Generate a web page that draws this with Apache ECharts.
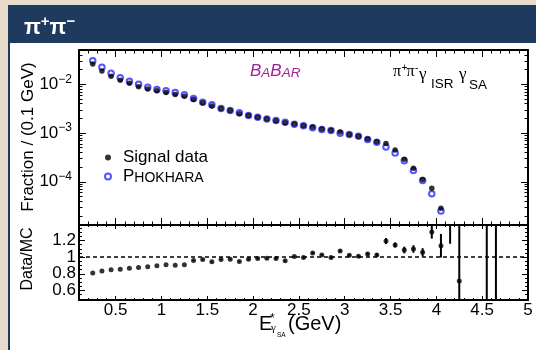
<!DOCTYPE html>
<html>
<head>
<meta charset="utf-8">
<script src="https://cdn.jsdelivr.net/npm/echarts@6/dist/echarts.min.js"></script>
<style>
  html, body { margin: 0; padding: 0; background: #e7dccb; }
  #main { width: 536px; height: 350px; }
</style>
</head>
<body>
<div id="main"></div>
<script>
// Photon energy bin centres, 0.1 GeV bins (GeV)
const energies = [0.25, 0.35, 0.45, 0.55, 0.65, 0.75, 0.85, 0.95, 1.05, 1.15,
  1.25, 1.35, 1.45, 1.55, 1.65, 1.75, 1.85, 1.95, 2.05, 2.15,
  2.25, 2.35, 2.45, 2.55, 2.65, 2.75, 2.85, 2.95, 3.05, 3.15,
  3.25, 3.35, 3.45, 3.55, 3.65, 3.75, 3.85, 3.95, 4.05];

// Fraction of events per 0.1 GeV, measured sample
const signalData = [0.0261, 0.0188, 0.0146, 0.0121, 0.0105, 0.0089, 0.0080, 0.0074, 0.0068, 0.0062,
  0.0057, 0.0049, 0.0042, 0.0036, 0.0032, 0.0029, 0.0025, 0.0023, 0.0021, 0.00194,
  0.00179, 0.00163, 0.00153, 0.00141, 0.00133, 0.00121, 0.00114, 0.00105, 0.00094, 0.00086,
  0.00076, 0.00066, 0.00061, 0.00045, 0.00029, 0.00019, 0.000112, 0.000074, 0.0000288];

// Fraction of events per 0.1 GeV, PHOKHARA generator
const phokhara = [0.0305, 0.0223, 0.0168, 0.0137, 0.0115, 0.0100, 0.0087, 0.0078, 0.0074, 0.0068,
  0.0061, 0.0051, 0.0043, 0.0038, 0.0032, 0.0029, 0.0026, 0.0023, 0.0021, 0.00195,
  0.00180, 0.00167, 0.00152, 0.00141, 0.00128, 0.00118, 0.00113, 0.00099, 0.00094, 0.00086,
  0.00074, 0.00065, 0.00052, 0.00039, 0.00027, 0.000171, 0.000107, 0.0000566, 0.0000253];

// Data/MC ratio with its uncertainty
const ratioEnergies = [0.25, 0.35, 0.45, 0.55, 0.65, 0.75, 0.85, 0.95, 1.05, 1.15,
  1.25, 1.35, 1.45, 1.55, 1.65, 1.75, 1.85, 1.95, 2.05, 2.15,
  2.25, 2.35, 2.45, 2.55, 2.65, 2.75, 2.85, 2.95, 3.05, 3.15,
  3.25, 3.35, 3.45, 3.55, 3.65, 3.75, 3.85, 3.95, 4.05, 4.15,
  4.25, 4.55, 4.65];
const ratioValues = [0.808, 0.832, 0.848, 0.855, 0.867, 0.876, 0.884, 0.896, 0.908, 0.903,
  0.908, 0.959, 0.970, 0.943, 0.970, 0.974, 0.947, 0.974, 0.982, 0.986,
  0.982, 0.955, 1.006, 0.994, 1.050, 1.026, 0.994, 1.073, 1.021, 1.009,
  1.038, 1.026, 1.192, 1.145, 1.085, 1.097, 1.057, 1.302, 1.136, 1.60,
  0.713, 1.90, 1.80];
const ratioErrors = [0.004, 0.004, 0.004, 0.004, 0.004, 0.004, 0.004, 0.004, 0.005, 0.005,
  0.005, 0.006, 0.006, 0.006, 0.007, 0.007, 0.007, 0.008, 0.008, 0.008,
  0.009, 0.009, 0.010, 0.010, 0.011, 0.011, 0.012, 0.013, 0.014, 0.015,
  0.017, 0.019, 0.036, 0.030, 0.040, 0.045, 0.050, 0.080, 0.142, 0.44,
  1.00, 1.60, 1.50];

// Axis ticks
const xMajorTicks = [0.5, 1, 1.5, 2, 2.5, 3, 3.5, 4, 4.5, 5];
const yLogMajorTicks = [1e-4, 1e-3, 1e-2];
const ratioMajorTicks = [0.6, 0.8, 1, 1.2];
// ratio labels are split over two axes so adjacent labels never collide
const ratioLabelsA = [0.6, 1];
const ratioLabelsB = [0.8, 1.2];

const X_MIN = 0.1, X_MAX = 5;
const Y_MIN = 1.3e-5, Y_MAX = 0.0506;
const R_MIN = 0.485, R_MAX = 1.385;

const xMinorTicks = [];
for (let i = 1; i <= 50; i++) xMinorTicks.push(i / 10);
const yLogMinorTicks = [];
for (let d = -5; d <= -2; d++) {
  for (let m = 2; m <= 9; m++) {
    const v = m * Math.pow(10, d);
    if (v > Y_MIN && v < Y_MAX) yLogMinorTicks.push(v);
  }
}
const ratioMinorTicks = [];
for (let i = 10; i <= 27; i++) ratioMinorTicks.push(i * 0.05);

const SANS = '"Liberation Sans", Arial, Helvetica, sans-serif';
const SERIF = '"Liberation Serif", "Times New Roman", serif';

function xAxis(grid, pos, ticks, len, line, label) {
  return {
    type: 'value', gridIndex: grid, position: pos, min: X_MIN, max: X_MAX,
    axisLine: { show: line, onZero: false, lineStyle: { color: '#000', width: 2 } },
    axisTick: { show: true, inside: true, length: len, customValues: ticks, lineStyle: { color: '#000', width: 1 } },
    axisLabel: label || { show: false },
    splitLine: { show: false }
  };
}
function yAxis(grid, pos, type, min, max, ticks, len, line, label) {
  return {
    type: type, gridIndex: grid, position: pos, min: min, max: max,
    axisLine: { show: line, onZero: false, lineStyle: { color: '#000', width: 2 } },
    axisTick: { show: true, inside: true, length: len, customValues: ticks, lineStyle: { color: '#000', width: 1 } },
    axisLabel: label || { show: false },
    splitLine: { show: false }, minorTick: { show: false }
  };
}
function ratioLabel(values) {
  return {
    show: true, customValues: values, margin: 3, hideOverlap: false,
    fontFamily: SANS, fontSize: 17, color: '#000',
    formatter: function (v) { return String(Math.round(v * 10) / 10); }
  };
}

const chart = echarts.init(document.getElementById('main'), null, { renderer: 'canvas' });

const option = {
  animation: false,
  backgroundColor: '#e7dccb',
  title: {
    text: '{p|π}{s|+}{p|π}{s|−}',
    left: 19, top: 9,
    textStyle: {
      rich: {
        p: { fontFamily: SANS, fontSize: 22, fontWeight: 'bold', color: '#fff', lineHeight: 28 },
        s: { fontFamily: SANS, fontSize: 15, fontWeight: 'bold', color: '#fff', lineHeight: 16, verticalAlign: 'top' }
      }
    }
  },
  grid: [
    { left: 79, top: 50, right: 8, height: 175 },
    { left: 79, top: 225, right: 8, height: 75 }
  ],
  xAxis: [
    xAxis(0, 'bottom', xMajorTicks, 7, true),
    xAxis(0, 'bottom', xMinorTicks, 3.5, false),
    xAxis(0, 'top', xMajorTicks, 7, true),
    xAxis(0, 'top', xMinorTicks, 3.5, false),
    xAxis(1, 'bottom', xMajorTicks, 4, true, {
      show: true, customValues: xMajorTicks, margin: 2, hideOverlap: false,
      fontFamily: SANS, fontSize: 17, color: '#000'
    }),
    xAxis(1, 'bottom', xMinorTicks, 2, false),
    xAxis(1, 'top', xMajorTicks, 4, true),
    xAxis(1, 'top', xMinorTicks, 2, false)
  ],
  yAxis: [
    yAxis(0, 'left', 'log', Y_MIN, Y_MAX, yLogMajorTicks, 7, true, {
      show: true, customValues: yLogMajorTicks, margin: 7, hideOverlap: false,
      formatter: function (v) {
        const e = Math.round(Math.log10(v));
        return '{b|10}{e|' + (e < 0 ? '−' : '') + Math.abs(e) + '}';
      },
      rich: {
        b: { fontFamily: SANS, fontSize: 17, color: '#000', lineHeight: 22 },
        e: { fontFamily: SANS, fontSize: 12, color: '#000', lineHeight: 12, verticalAlign: 'top' }
      }
    }),
    yAxis(0, 'left', 'log', Y_MIN, Y_MAX, yLogMinorTicks, 3.5, false),
    yAxis(0, 'right', 'log', Y_MIN, Y_MAX, yLogMajorTicks, 7, true),
    yAxis(0, 'right', 'log', Y_MIN, Y_MAX, yLogMinorTicks, 3.5, false),
    yAxis(1, 'left', 'value', R_MIN, R_MAX, ratioMajorTicks, 6, true, ratioLabel(ratioLabelsA)),
    yAxis(1, 'left', 'value', R_MIN, R_MAX, ratioMinorTicks, 3, false, ratioLabel(ratioLabelsB)),
    yAxis(1, 'right', 'value', R_MIN, R_MAX, ratioMajorTicks, 6, true),
    yAxis(1, 'right', 'value', R_MIN, R_MAX, ratioMinorTicks, 3, false)
  ],
  legend: {
    orient: 'vertical', left: 99, top: 144,
    itemWidth: 20, itemHeight: 6, itemGap: 2,
    data: ['Signal data', 'Phokhara'],
    formatter: function (name) {
      return name === 'Phokhara' ? '{P|P}{s|HOKHARA}' : '{n|' + name + '}';
    },
    textStyle: {
      color: '#000',
      rich: {
        n: { fontFamily: SANS, fontSize: 17, color: '#000', lineHeight: 20 },
        P: { fontFamily: SANS, fontSize: 17, color: '#000', lineHeight: 17, verticalAlign: 'bottom' },
        s: { fontFamily: SANS, fontSize: 14, color: '#000', lineHeight: 14, verticalAlign: 'bottom' }
      }
    }
  },
  graphic: [
    { type: 'rect', z: -10, shape: { x: 8, y: 5, width: 540, height: 360 }, style: { fill: '#1e3a5f' } },
    { type: 'rect', z: -9, shape: { x: 10, y: 43, width: 540, height: 320 }, style: { fill: '#ffffff' } },
    {
      type: 'text', x: 28, y: 137, rotation: Math.PI / 2,
      style: { text: 'Fraction / (0.1 GeV)', font: '17px ' + SANS, fill: '#000', align: 'center', verticalAlign: 'middle' }
    },
    {
      type: 'text', x: 28, y: 259, rotation: Math.PI / 2,
      style: { text: 'Data/MC', font: '16px ' + SANS, fill: '#000', align: 'center', verticalAlign: 'middle' }
    },
    {
      type: 'text', x: 250, y: 80,
      style: {
        text: '{B|B}{a|A}{B|B}{a|AR}', align: 'left', verticalAlign: 'bottom',
        rich: {
          B: { font: 'italic 17px ' + SANS, fill: '#a0229a', lineHeight: 17, verticalAlign: 'bottom' },
          a: { font: 'italic 13.5px ' + SANS, fill: '#a0229a', lineHeight: 13.5, verticalAlign: 'bottom' }
        }
      }
    },
    // process label: pi+ pi- gamma_ISR gamma_SA
    { type: 'text', x: 393, y: 72, style: { text: 'π', font: '16px ' + SERIF, fill: '#000', verticalAlign: 'middle' } },
    { type: 'text', x: 401.5, y: 68, style: { text: '+', font: '10px ' + SANS, fill: '#000', verticalAlign: 'middle' } },
    { type: 'text', x: 406.5, y: 72, style: { text: 'π', font: '16px ' + SERIF, fill: '#000', verticalAlign: 'middle' } },
    { type: 'text', x: 415, y: 68, style: { text: '-', font: '10px ' + SANS, fill: '#000', verticalAlign: 'middle' } },
    { type: 'text', x: 419, y: 75, style: { text: 'γ', font: '17px ' + SERIF, fill: '#000', verticalAlign: 'middle' } },
    { type: 'text', x: 431, y: 84, style: { text: 'ISR', font: '13.5px ' + SANS, fill: '#000', verticalAlign: 'middle' } },
    { type: 'text', x: 459, y: 75, style: { text: 'γ', font: '17px ' + SERIF, fill: '#000', verticalAlign: 'middle' } },
    { type: 'text', x: 469, y: 85.5, style: { text: 'SA', font: '13.5px ' + SANS, fill: '#000', verticalAlign: 'middle' } },
    // axis title: E*_{gamma_SA} (GeV)
    { type: 'text', x: 259, y: 324, style: { text: 'E', font: '20px ' + SANS, fill: '#000', verticalAlign: 'middle' } },
    { type: 'text', x: 270, y: 319, style: { text: '*', font: '12px ' + SANS, fill: '#000', verticalAlign: 'middle' } },
    { type: 'text', x: 271, y: 328, style: { text: 'γ', font: '11px ' + SERIF, fill: '#000', verticalAlign: 'middle' } },
    { type: 'text', x: 277, y: 335, style: { text: 'SA', font: '6.5px ' + SANS, fill: '#000', verticalAlign: 'middle' } },
    { type: 'text', x: 288, y: 324, style: { text: '(GeV)', font: '20px ' + SANS, fill: '#000', verticalAlign: 'middle' } }
  ],
  series: [
    {
      name: 'Phokhara', type: 'scatter', xAxisIndex: 0, yAxisIndex: 0,
      symbol: 'emptyCircle', symbolSize: 5.5,
      itemStyle: { color: '#2b2bff', borderColor: '#2b2bff', borderWidth: 1.2 },
      data: energies.map(function (x, i) { return [x, phokhara[i]]; }),
      z: 3
    },
    {
      name: 'Signal data', type: 'scatter', xAxisIndex: 0, yAxisIndex: 0,
      symbol: 'circle', symbolSize: 5.5,
      itemStyle: { color: '#000' },
      data: energies.map(function (x, i) { return [x, signalData[i]]; }),
      z: 4
    },
    {
      name: 'ratio errors', type: 'custom', xAxisIndex: 4, yAxisIndex: 4,
      data: ratioEnergies.map(function (x, i) {
        return [x, ratioValues[i] - ratioErrors[i], ratioValues[i] + ratioErrors[i]];
      }),
      encode: { x: 0, y: [1, 2] },
      renderItem: function (params, api) {
        const cs = params.coordSys;
        const p1 = api.coord([api.value(0), api.value(1)]);
        const p2 = api.coord([api.value(0), api.value(2)]);
        const top = cs.y, bot = cs.y + cs.height;
        const y1 = Math.min(Math.max(p1[1], top), bot);
        const y2 = Math.min(Math.max(p2[1], top), bot);
        if (Math.abs(y1 - y2) < 1) return null;
        return {
          type: 'line',
          shape: { x1: p1[0], y1: y1, x2: p1[0], y2: y2 },
          style: { stroke: '#000', lineWidth: 2 }
        };
      },
      z: 3
    },
    {
      name: 'Data/MC', type: 'scatter', xAxisIndex: 4, yAxisIndex: 4,
      symbol: 'circle', symbolSize: 5,
      itemStyle: { color: '#000' },
      data: ratioEnergies.map(function (x, i) { return [x, ratioValues[i]]; }),
      markLine: {
        silent: true, symbol: ['none', 'none'],
        label: { show: false },
        lineStyle: { color: '#000', type: [4, 3], width: 1.7 },
        data: [{ yAxis: 1 }]
      },
      z: 4
    }
  ]
};

chart.setOption(option);
</script>
</body>
</html>
